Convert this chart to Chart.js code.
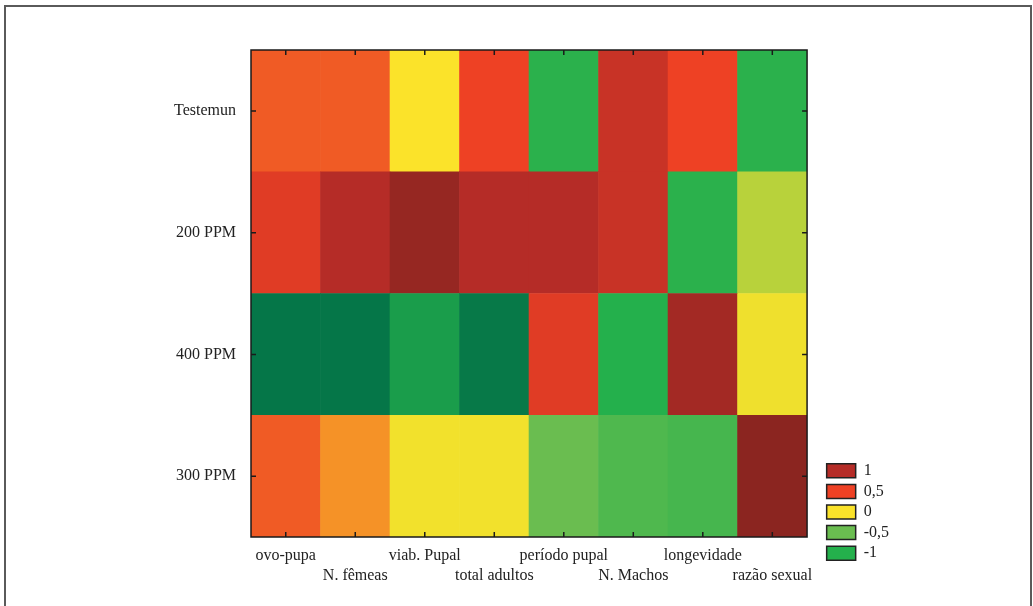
<!DOCTYPE html>
<html>
<head>
<meta charset="utf-8">
<script src="https://cdn.jsdelivr.net/npm/chart.js@4.4.1/dist/chart.umd.min.js"></script>
<style>
  body { margin: 0; background: #fff; }
  canvas { display: block; }
</style>
</head>
<body>
<canvas id="heatmap" width="1033" height="606"></canvas>
<script>
const variables = ["ovo-pupa", "N. fêmeas", "viab. Pupal", "total adultos", "período pupal", "N. Machos", "longevidade", "razão sexual"];
const groups = ["Testemun", "200 PPM", "400 PPM", "300 PPM"];

const testemun = [0.42, 0.42, 0.0, 0.5, -0.95, 0.83, 0.5, -0.95];
const ppm200 = [0.62, 1.0, 1.37, 1.0, 1.0, 0.83, -0.95, -0.23];
const ppm400 = [-1.5, -1.5, -1.16, -1.47, 0.62, -1.0, 1.21, -0.04];
const ppm300 = [0.42, 0.25, -0.03, -0.03, -0.5, -0.69, -0.76, 1.5];

const legendValues = [1, 0.5, 0, -0.5, -1];
const legendLabels = ["1", "0,5", "0", "-0,5", "-1"];

const colorStops = [
  [-1.5, [5, 118, 72]],
  [-1, [36, 176, 76]],
  [-0.5, [106, 189, 80]],
  [0, [251, 227, 42]],
  [0.5, [238, 65, 36]],
  [1, [181, 44, 39]],
  [1.5, [139, 37, 32]]
];

function valueColor(v) {
  if (v <= colorStops[0][0]) return "rgb(" + colorStops[0][1].join(",") + ")";
  for (let i = 1; i < colorStops.length; i++) {
    const [v1, c1] = colorStops[i];
    const [v0, c0] = colorStops[i - 1];
    if (v <= v1) {
      const t = (v - v0) / (v1 - v0);
      const c = c0.map((x, k) => Math.round(x + (c1[k] - x) * t));
      return "rgb(" + c.join(",") + ")";
    }
  }
  return "rgb(" + colorStops[colorStops.length - 1][1].join(",") + ")";
}

// bottom row first, the stack grows upward
const rows = [ppm300, ppm400, ppm200, testemun];
const rowNames = groups.slice().reverse();

const datasets = rows.map((row, i) => ({
  label: rowNames[i],
  data: row.map(() => 1),
  backgroundColor: row.map(valueColor),
  borderWidth: 0,
  barPercentage: 1,
  categoryPercentage: 1
}));

const textColor = "#222";
const serif = { family: "'Liberation Serif', 'DejaVu Serif', serif", size: 16 };

const framePlugin = {
  id: "frame",
  afterDraw(chart) {
    const { ctx, chartArea: a, scales } = chart;
    ctx.save();
    // outer frame of the figure
    ctx.strokeStyle = "#5a5a5a";
    ctx.lineWidth = 2;
    ctx.beginPath();
    ctx.moveTo(5, 606);
    ctx.lineTo(5, 6);
    ctx.lineTo(1031, 6);
    ctx.lineTo(1031, 606);
    ctx.stroke();

    // plot box
    ctx.strokeStyle = "#1a1a1a";
    ctx.lineWidth = 1.5;
    ctx.strokeRect(a.left, a.top, a.right - a.left, a.bottom - a.top);

    // inward ticks
    ctx.beginPath();
    scales.x.ticks.forEach((t, i) => {
      const px = scales.x.getPixelForTick(i);
      ctx.moveTo(px, a.top);
      ctx.lineTo(px, a.top + 5);
      ctx.moveTo(px, a.bottom);
      ctx.lineTo(px, a.bottom - 5);
    });
    scales.y.ticks.forEach(t => {
      const py = scales.y.getPixelForValue(t.value);
      ctx.moveTo(a.left, py);
      ctx.lineTo(a.left + 5, py);
      ctx.moveTo(a.right, py);
      ctx.lineTo(a.right - 5, py);
    });
    ctx.stroke();
    ctx.restore();
  }
};

new Chart(document.getElementById("heatmap"), {
  type: "bar",
  data: { labels: variables, datasets: datasets },
  plugins: [framePlugin],
  options: {
    responsive: false,
    animation: false,
    devicePixelRatio: 1,
    layout: { padding: { top: 50, right: 134, bottom: 0, left: 0 } },
    scales: {
      x: {
        stacked: true,
        grid: { display: false },
        border: { display: false },
        ticks: {
          autoSkip: false,
          maxRotation: 0,
          padding: 0.5,
          color: textColor,
          font: { ...serif, lineHeight: 1.25 },
          callback: (v, i) => i % 2 === 0 ? variables[i] : ["", variables[i]]
        },
        afterFit: s => { s.height = 69; }
      },
      y: {
        stacked: true,
        min: 0,
        max: 4,
        grid: { display: false },
        border: { display: false },
        afterBuildTicks: s => { s.ticks = [0.5, 1.5, 2.5, 3.5].map(v => ({ value: v })); },
        ticks: {
          padding: 7,
          color: textColor,
          font: serif,
          callback: v => rowNames[Math.floor(v)]
        },
        afterFit: s => { s.width = 251; }
      },
      y2: {
        position: "right",
        display: true,
        grid: { display: false },
        border: { display: false },
        ticks: { display: false },
        afterFit: s => { s.width = 15; }
      }
    },
    plugins: {
      tooltip: { enabled: false },
      legend: {
        position: "right",
        align: "start",
        onClick: null,
        title: { display: true, text: "", padding: { top: 389, bottom: 0 }, font: serif },
        labels: {
          boxWidth: 29,
          boxHeight: 14,
          padding: 4.6,
          color: textColor,
          font: serif,
          generateLabels: () => legendValues.map((v, i) => ({
            text: legendLabels[i],
            fillStyle: valueColor(v),
            strokeStyle: "#222",
            fontColor: textColor,
            lineWidth: 1.5,
            hidden: false
          }))
        }
      }
    }
  }
});
</script>
</body>
</html>
